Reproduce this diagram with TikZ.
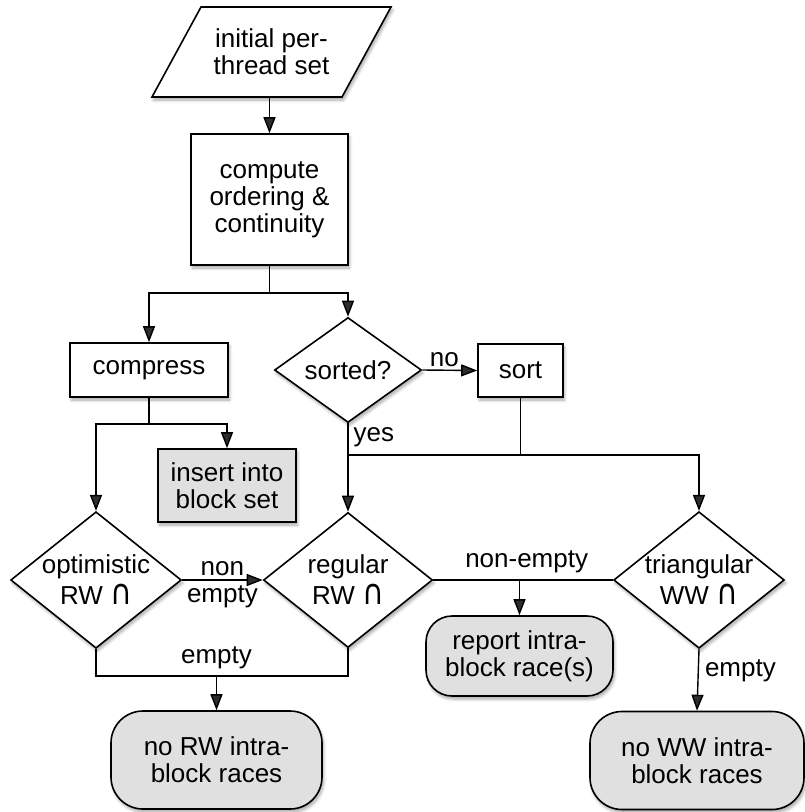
\documentclass[tikz,border=0pt]{standalone}
\usepackage{fontspec}
\usepackage{graphicx}
\setmainfont{Liberation Sans}
\newfontfamily\symfont{DejaVu Sans}
\usetikzlibrary{shapes.geometric,arrows.meta,shadows.blur}
\newcommand{\fsz}{\fontsize{26}{27}\selectfont}
\newcommand{\fszd}{\fontsize{26}{31}\selectfont}
\newcommand{\capsym}{\scalebox{1.15}[1.35]{\symfont ∩}}
\tikzset{
  shd/.style={blur shadow={shadow blur steps=6, shadow xshift=1.5pt, shadow yshift=-3pt, shadow opacity=35, shadow blur radius=3pt}},
  txt/.style={align=center, inner sep=0pt, font=\fsz},
  box/.style={txt, draw, line width=1.6pt, fill=white, shd},
  term/.style={box, fill=black!12, rounded corners=28pt},
  dia/.style={txt, font=\fszd, draw, line width=1.6pt, fill=white, shd, diamond, aspect=1.25},
  para/.style={draw, line width=1.6pt, fill=white, shd},
  arr/.style={-{Triangle[length=16pt,width=12pt]}},
  lbl/.style={font=\fsz, inner sep=0pt}
}
\begin{document}
\begin{tikzpicture}[x=1pt,y=-1pt,line width=1.4pt]
\useasboundingbox (0,0) rectangle (804,812);
% input parallelogram
\path[para] (152,97) -- (201,7) -- (391,7) -- (342,97) -- cycle;
\node[txt, minimum width=190pt, minimum height=90pt] (init) at (271.5,52) {initial per-\\thread set};
% nodes
\node[box, minimum width=157pt, minimum height=131pt] (compute) at (269.5,199.5) {compute\\ordering \&\\continuity};
\node[box, minimum width=158pt, minimum height=54pt] (compress) at (149,370) {compress};
\node[dia, minimum width=147pt, minimum height=105pt] (sorted) at (348,370) {sorted?};
\node[box, minimum width=85pt, minimum height=53pt] (sort) at (520.5,370.5) {sort};
\node[box, fill=black!12, minimum width=138pt, minimum height=73pt] (insert) at (227,485.5) {insert into\\block set};
\node[dia, minimum width=167pt, minimum height=135pt] (opt) at (96,580) {optimistic\\RW \capsym};
\node[dia, minimum width=169pt, minimum height=135pt] (reg) at (348,580) {regular\\RW \capsym};
\node[dia, minimum width=168pt, minimum height=135pt] (tri) at (699,580) {triangular\\WW \capsym};
\node[term, rounded corners=26pt, minimum width=187pt, minimum height=80pt] (report) at (519.5,656) {report intra-\\block race(s)};
\node[term, rounded corners=32pt, minimum width=211pt, minimum height=98pt] (norw) at (216.5,760) {no RW intra-\\block races};
\node[term, rounded corners=32pt, minimum width=214pt, minimum height=98pt] (noww) at (697,760.5) {no WW intra-\\block races};
% connectors
\draw[arr] (init.south -| compute.north) -- (compute.north);
\draw (compute.south) -- ++(0,27) coordinate (j1);
\draw[arr] (j1) -| (compress.north);
\draw[arr] (j1) -| (sorted.north);
\draw[arr] (sorted.east) -- node[lbl, above=3pt, pos=0.4] {no} (sort.west);
\draw (compress.south) -- ++(0,26) coordinate (j2);
\draw[arr] (j2) -| (insert.north);
\draw[arr] (j2) -| (opt.north);
\draw[arr] (sorted.south) -- (reg.north);
\node[lbl, anchor=west] (yes) at ([xshift=5pt, yshift=-14pt]sorted.south) {yes};
\draw (sort.south) -- ++(0,57) coordinate (j3);
\draw (j3) -- (j3 -| reg.north);
\draw[arr] (j3) -| (tri.north);
\draw[arr] (opt.east) -- node[lbl, above=4pt] {non} node[lbl, below=5pt] {empty} (reg.west);
\draw (reg.east) -- node[lbl, above=6pt, pos=0.52] {non-empty} (tri.west);
\draw[arr] (reg.east -| report.north) -- (report.north);
\draw (opt.south) -- ++(0,27) coordinate (j4) -- (j4 -| reg.south) -- (reg.south);
\coordinate (j5) at (j4 -| norw.north);
\draw[arr] (j5) -- node[lbl, pos=0, above=6pt] {empty} (norw.north);
\draw[arr] (tri.south) -- node[lbl, right=6pt, pos=0.35] {empty} (noww.north);
\end{tikzpicture}
\end{document}
